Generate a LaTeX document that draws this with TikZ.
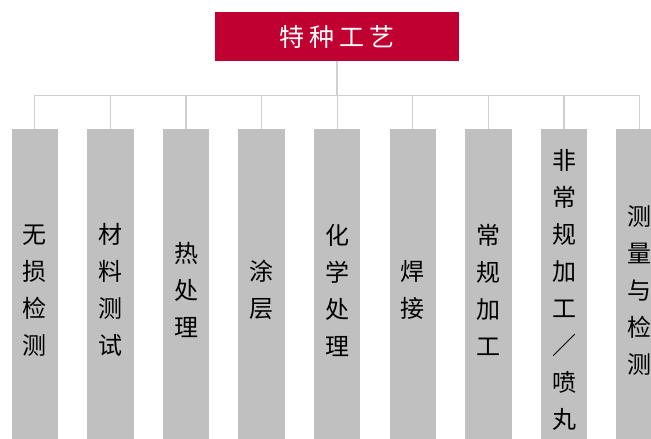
\documentclass[tikz,border=0pt]{standalone}
\usepackage{fontspec}
\setmainfont{Noto Sans CJK SC}
\definecolor{topred}{RGB}{192,0,48}
\definecolor{boxgray}{RGB}{192,192,192}
\definecolor{linegray}{RGB}{208,208,208}
\begin{document}
\begin{tikzpicture}[x=1pt,y=-1pt,
  topbox/.style={fill=topred, text=white, minimum width=244pt, minimum height=48.5pt, inner sep=0pt, font=\fontsize{25}{30}\selectfont},
  catbox/.style={fill=boxgray, minimum width=46.5pt, minimum height=322pt, inner sep=0pt, anchor=north, align=center, font=\fontsize{24}{37}\selectfont},
  conn/.style={draw=linegray, line width=1.2pt}]
\useasboundingbox (0,0) rectangle (651,439);
\clip (0,0) rectangle (651,439);
\node[topbox] (top) at (337,36.5) {特\hspace{5pt}种\hspace{5pt}工\hspace{5pt}艺};
\node[catbox] (b1) at (34.8,129) {无\\损\\检\\测};
\node[catbox] (b2) at (110.4,129) {材\\料\\测\\试};
\node[catbox] (b3) at (186.0,129) {热\\处\\理};
\node[catbox] (b4) at (261.6,129) {涂\\层};
\node[catbox] (b5) at (337.2,129) {化\\学\\处\\理};
\node[catbox] (b6) at (412.8,129) {焊\\接};
\node[catbox] (b7) at (488.4,129) {常\\规\\加\\工};
\node[catbox] (b8) at (564.0,129) {非\\常\\规\\加\\工\\／\\喷\\丸};
\node[catbox] (b9) at (639.6,129) {测\\量\\与\\检\\测};
\foreach \i in {1,...,9}{
  \draw[conn] (top.south) -- ++(0,34.5) -| (b\i.north);
}
\end{tikzpicture}
\end{document}
